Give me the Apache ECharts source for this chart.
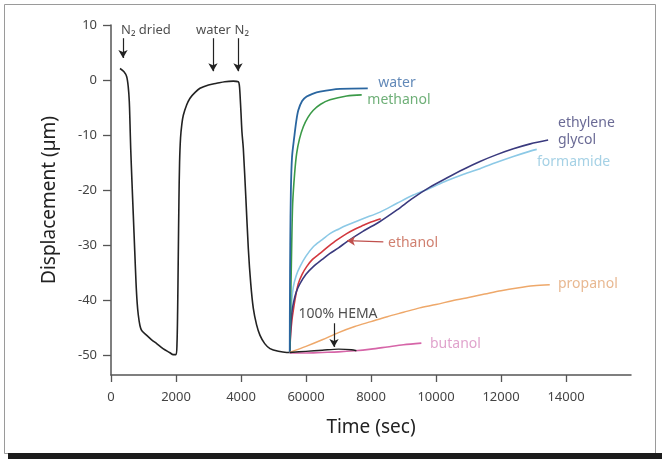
<!DOCTYPE html>
<html>
<head>
<meta charset="utf-8">
<script src="https://cdn.jsdelivr.net/npm/echarts@6/dist/echarts.min.js"></script>
<style>
html,body{margin:0;padding:0;background:#fff;}
#c{width:662px;height:459px;}
</style>
</head>
<body>
<div id="c"></div>
<script>
// ---- data (time in sec, displacement in µm) ----
const xTickValues = [0, 2000, 4000, 6000, 8000, 10000, 12000, 14000];
const xTickLabels = ['0', '2000', '4000', '60000', '8000', '10000', '12000', '14000'];
const yTickValues = [-50, -40, -30, -20, -10, 0, 10];

const mainCurve = [[277,2.1],[400,1.5],[483,0.6],[530,-1.2],[563,-3.9],[585,-8],[606,-12.4],[645,-18.5],[686,-24.5],[730,-31],[769,-36.7],[805,-40.5],[840,-42.7],[890,-44.6],[944,-45.5],[1100,-46.4],[1250,-47.2],[1406,-47.9],[1600,-48.8],[1800,-49.5],[1917,-49.9],[2000,-49.9],[2030,-48],[2050,-42],[2070,-32],[2090,-22],[2110,-15],[2140,-10.5],[2180,-8],[2225,-6.4],[2330,-4.5],[2431,-3.3],[2580,-2.3],[2738,-1.5],[3000,-0.9],[3252,-0.6],[3500,-0.3],[3763,-0.2],[3917,-0.3],[3950,-1],[3969,-2.5],[4000,-6],[4030,-9.5],[4071,-12.4],[4150,-21.5],[4225,-30.6],[4300,-37],[4379,-41.5],[4480,-44.5],[4585,-46.4],[4730,-47.9],[4892,-48.8],[5150,-49.3],[5406,-49.5],[5500,-49.5]];
const water = [[5500,-49.5],[5505,-40],[5515,-30],[5535,-20],[5570,-14],[5640,-10.3],[5700,-7.5],[5763,-5.5],[5880,-3.8],[6021,-3.0],[6200,-2.5],[6431,-2.1],[7046,-1.6],[7900,-1.5]];
const methanol = [[5500,-49.5],[5530,-40],[5560,-30],[5590,-22.4],[5650,-17],[5714,-13.3],[5800,-10.7],[5917,-8.5],[6060,-6.8],[6225,-5.5],[6450,-4.4],[6738,-3.6],[7252,-2.9],[7714,-2.7]];
const ethyleneGlycol = [[5500,-49.5],[5530,-45],[5570,-42],[5620,-40.3],[5700,-38.5],[5815,-37],[6000,-35.3],[6225,-33.9],[6500,-32.6],[6738,-31.5],[7000,-30.5],[7252,-29.4],[7750,-27.5],[8277,-25.7],[8800,-23.6],[9302,-21.4],[9800,-19.5],[10329,-17.8],[10850,-16.2],[11354,-14.8],[11850,-13.6],[12379,-12.5],[12900,-11.6],[13450,-10.9]];
const formamide = [[5500,-49.5],[5520,-45],[5550,-41],[5610,-37.6],[5700,-35.5],[5815,-33.9],[6000,-32],[6225,-30.3],[6500,-29],[6738,-27.9],[7000,-27.1],[7252,-26.4],[7750,-25.2],[8277,-24],[8800,-22.4],[9302,-20.9],[9800,-19.7],[10329,-18.3],[10850,-17.1],[11354,-16.1],[11850,-15],[12379,-13.9],[12800,-13.1],[13100,-12.6]];
const ethanol = [[5500,-49.5],[5530,-46],[5570,-43.5],[5610,-41.8],[5680,-39.3],[5763,-37],[5880,-35.3],[6021,-33.9],[6200,-32.6],[6431,-31.5],[6700,-30.2],[6944,-29.1],[7252,-27.9],[7500,-27.1],[7764,-26.4],[8000,-25.8],[8300,-25.2]];
const propanol = [[5500,-49.5],[6000,-48.4],[6500,-47.2],[7000,-45.9],[7500,-44.8],[8000,-43.9],[8500,-43],[9000,-42.2],[9500,-41.4],[10000,-40.8],[10500,-40.1],[11000,-39.5],[11500,-38.9],[12000,-38.3],[12500,-37.8],[13000,-37.4],[13500,-37.2]];
const butanol = [[5500,-49.6],[6000,-49.6],[6500,-49.5],[7000,-49.4],[7500,-49.2],[8000,-48.9],[8500,-48.5],[9000,-48.1],[9550,-47.8]];
const hema = [[5500,-49.5],[6000,-49.3],[6500,-49.1],[7000,-48.9],[7400,-49.0],[7550,-49.2]];

// annotation texts anchored in data coordinates
const labelTexts = ['N₂ dried', 'water', 'N₂', 'water', 'methanol', 'ethylene', 'glycol', 'formamide', 'ethanol', 'propanol', 'butanol', '100% HEMA'];
const labelAnchors = [[308,9.1],[2615,9.1],[3800,9.1],[8800,-0.6],[8860,-3.6],[13754,-7.8],[13754,-10.9],[13108,-14.9],[8523,-29.6],[13754,-37.1],[9815,-48.0],[6985,-42.5]];
const labelAlign = ['left','left','left','center','center','left','left','left','left','left','left','center'];
const labelSizes = [13,13,13,14,14,14,14,14,14,14,14,14];
const labelColors = ['#222','#222','#222','#3b6ca6','#4a9b55','#45457a','#45457a','#8fc6df','#c4604c','#e2a675','#d88cbf','#222'];

// arrows [from, to]
const arrows = [
  [[369,7.6],[369,4.0]],
  [[3138,7.6],[3138,1.6]],
  [[3908,7.6],[3908,1.6]],
  [[6862,-44.2],[6862,-48.5]],
  [[8380,-29.4],[7262,-29.2]]
];
const arrowColors = ['#222','#222','#222','#222','#c0504d'];

const chart = echarts.init(document.getElementById('c'), null, {renderer:'canvas'});
const FONT = 'Noto Sans';

function lineSeries(name, data, color, width) {
  return {
    name, type:'line', data, showSymbol:false, smooth:0.3,
    lineStyle:{color, width: width || 1.6}, silent:true, z:2
  };
}

const series = [
  lineSeries('main', mainCurve, '#222222', 1.6),
  lineSeries('formamide', formamide, '#8cc9e6', 1.6),
  lineSeries('ethanol', ethanol, '#d2383e', 1.6),
  lineSeries('ethylene glycol', ethyleneGlycol, '#3a3a7e', 1.6),
  lineSeries('methanol', methanol, '#3b9a48', 1.6),
  lineSeries('water', water, '#2a66a0', 1.8),
  lineSeries('propanol', propanol, '#eea86a', 1.5),
  lineSeries('butanol', butanol, '#d665a8', 1.6),
  lineSeries('100% HEMA', hema, '#222222', 1.4),
  {
    type:'scatter', symbolSize:0, silent:true, z:5,
    data: labelTexts.map((t,i)=>({
      value: labelAnchors[i],
      label:{show:true, position:'inside', formatter:t, align:labelAlign[i], verticalAlign:'middle',
             color:labelColors[i], fontSize:labelSizes[i], fontFamily:FONT}
    })),
    markLine:{
      silent:true, symbol:['none','arrow'], symbolSize:[7,8], animation:false,
      label:{show:false},
      data: arrows.map((a,i)=>[
        {coord:a[0], lineStyle:{color:arrowColors[i], width:1.2, type:'solid'}},
        {coord:a[1]}
      ])
    }
  }
];

chart.setOption({
  animation:false,
  backgroundColor:'#ffffff',
  textStyle:{fontFamily:FONT},
  grid:{left:111, right:31, top:25, bottom:84, containLabel:false},
  xAxis:{
    type:'value', min:0, max:16000,
    name:'Time (sec)', nameLocation:'middle', nameGap:43,
    nameTextStyle:{fontSize:19, color:'#222', fontFamily:FONT},
    axisLine:{show:true, onZero:false, lineStyle:{color:'#555', width:1.5}},
    axisTick:{show:true, customValues:xTickValues, length:7, lineStyle:{color:'#555', width:1.3}},
    axisLabel:{show:true, customValues:xTickValues, margin:16, fontSize:13, color:'#444', fontFamily:FONT,
      formatter:(v)=>{const i = xTickValues.indexOf(v); return i>=0 ? xTickLabels[i] : '';}},
    splitLine:{show:false}
  },
  yAxis:{
    type:'value', min:-53.6, max:10,
    name:'Displacement (µm)', nameLocation:'middle', nameGap:52, nameRotate:90,
    nameTextStyle:{fontSize:19, color:'#222', fontFamily:FONT},
    axisLine:{show:true, onZero:false, lineStyle:{color:'#555', width:1.5}},
    axisTick:{show:true, customValues:yTickValues, length:8, lineStyle:{color:'#555', width:1.3}},
    axisLabel:{show:true, customValues:yTickValues, margin:14, fontSize:13, color:'#444', fontFamily:FONT},
    splitLine:{show:false}
  },
  graphic:[
    {type:'rect', shape:{x:4.5, y:4.5, width:651, height:449}, style:{fill:'none', stroke:'#9a9a9a', lineWidth:1}, silent:true, z:-1},
    {type:'rect', shape:{x:8, y:453, width:654, height:6}, style:{fill:'#1c1c1c'}, silent:true, z:-1}
  ],
  series
});
</script>
</body>
</html>
